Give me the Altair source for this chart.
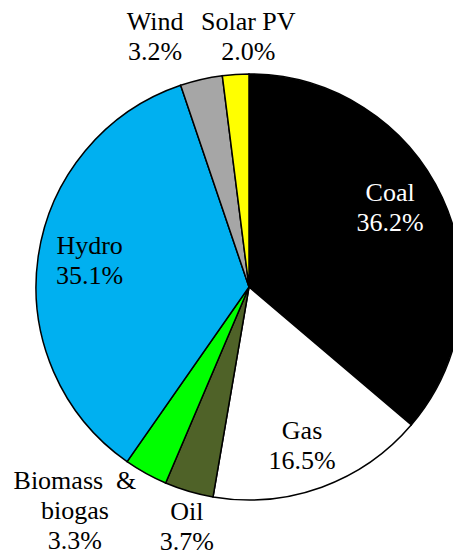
import math
import altair as alt
import pandas as pd

# ---- data ----
categories = ["Coal", "Gas", "Oil", "Biomass & biogas", "Hydro", "Wind", "Solar PV"]
shares = [36.2, 16.5, 3.7, 3.3, 35.1, 3.2, 2.0]
label_names = ["Coal", "Gas", "Oil", "Biomass\u00a0 &\nbiogas", "Hydro", "Wind", "Solar PV"]
colors = ["#000000", "#ffffff", "#4f6228", "#00ff00", "#00b0f0", "#a6a6a6", "#ffff00"]

df = pd.DataFrame({
    "idx": list(range(len(categories))),
    "category": categories,
    "share": shares,
    "name": label_names,
})
df["label"] = [f"{n}\n{s:.1f}%" for n, s in zip(label_names, shares)]

# ---- styling / label placement (radius, dx, dy, colour) ----
CX, CY, R = 249, 287, 213
FONT = "'Liberation Serif', 'Times New Roman', Times, serif"
label_style = {
    "Coal": (161, -5, -26, "white"),
    "Gas": (167, -4, -13, "black"),
    "Oil": (252, 9, -17, "black"),
    "Biomass & biogas": (287, -35, -57, "black"),
    "Hydro": (161, 0, -18, "black"),
    "Wind": (267, -34, -5, "black"),
    "Solar PV": (250, 15, -15, "black"),
}

theta_scale = alt.Scale(domain=[0, 100], range=[0, 2 * math.pi])

base = alt.Chart(df)

pie = base.mark_arc(outerRadius=R, stroke="black", strokeWidth=1.5).encode(
    theta=alt.Theta("share:Q", stack=True, scale=theta_scale),
    color=alt.Color("category:N", scale=alt.Scale(domain=categories, range=colors), legend=None),
    order=alt.Order("idx:Q"),
    x=alt.value(CX),
    y=alt.value(CY),
)

layers = [pie]
for cat in categories:
    r, dx, dy, col = label_style[cat]
    t = (
        base.transform_window(cum="sum(share)", sort=[alt.SortField("idx")], frame=[None, 0])
        .transform_calculate(mid="datum.cum - datum.share / 2")
        .transform_filter(alt.datum.category == cat)
        .mark_text(radius=r, dx=dx, dy=dy, fontSize=26, font=FONT, color=col,
                   lineBreak="\n", lineHeight=30, align="center", baseline="middle")
        .encode(
            theta=alt.Theta("mid:Q", scale=theta_scale),
            text="label:N",
            x=alt.value(CX),
            y=alt.value(CY),
        )
    )
    layers.append(t)

chart = alt.layer(*layers).properties(
    width=461, height=558, autosize=alt.AutoSizeParams(type="none"),
    padding={"left": -8, "top": -8, "right": -8, "bottom": 0},
).configure_view(stroke=None)

chart.save("out.html", embed_options={"renderer": "svg", "actions": False})
